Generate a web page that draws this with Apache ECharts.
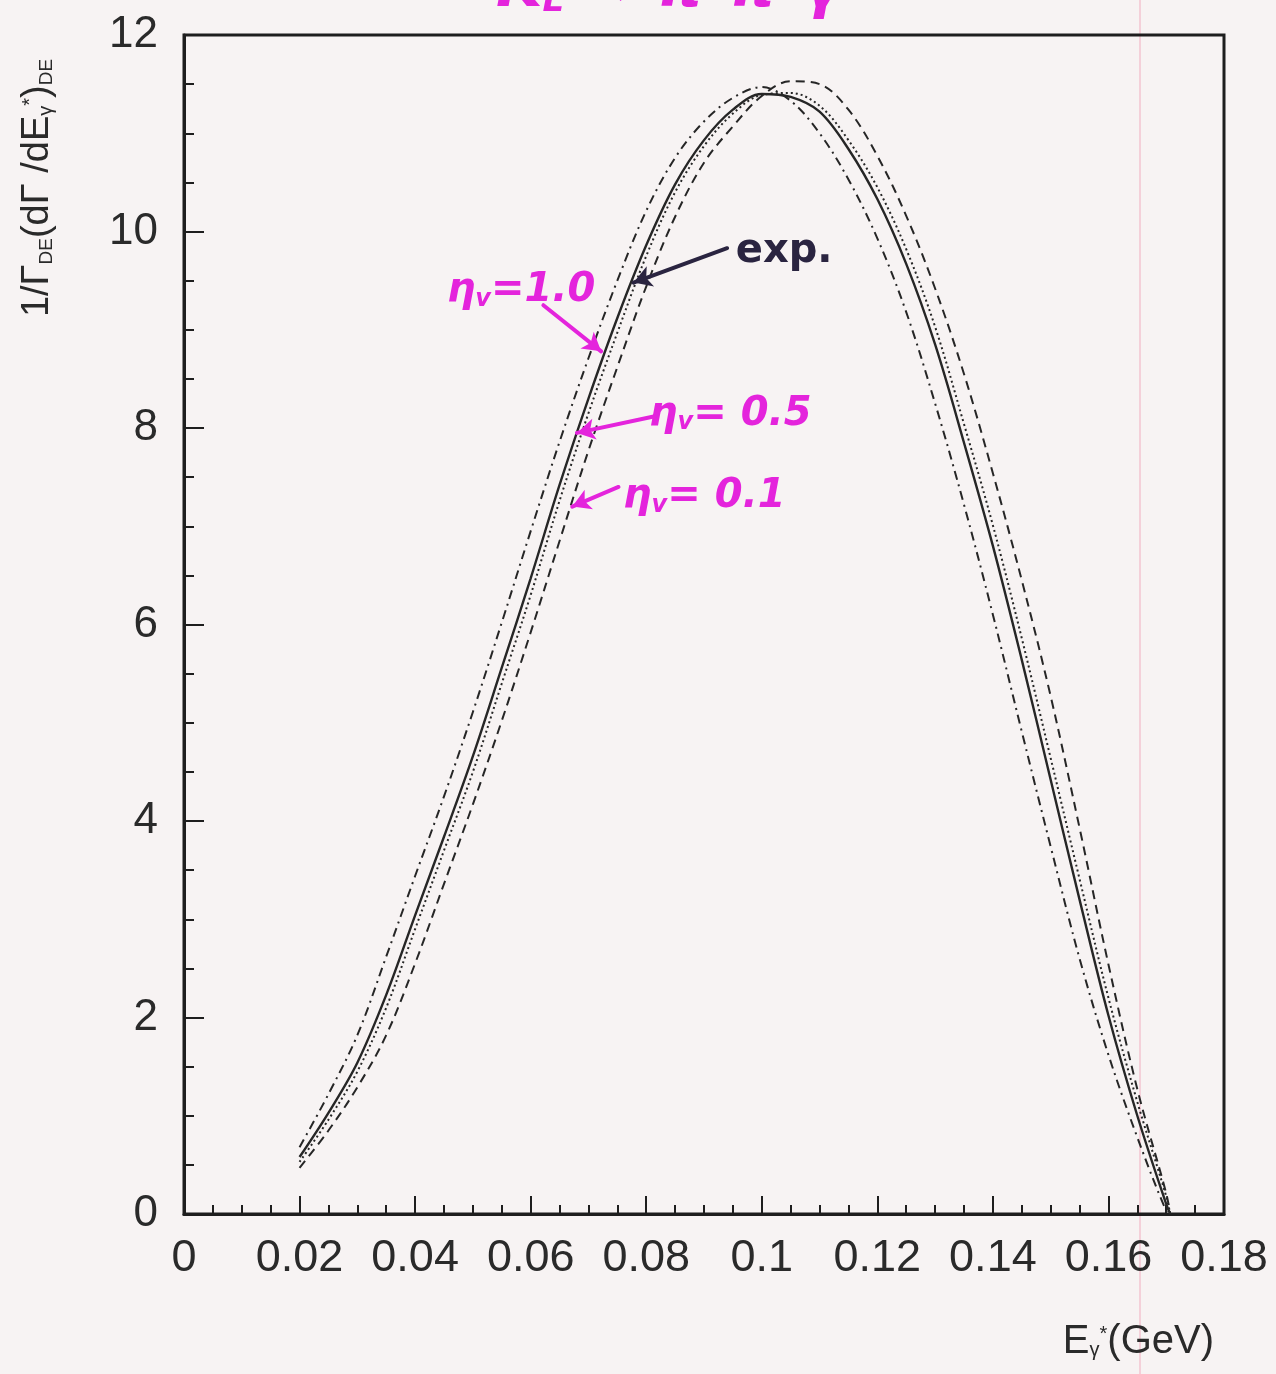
<!DOCTYPE html>
<html>
<head>
<meta charset="utf-8">
<title>DE photon spectrum</title>
<script src="https://cdn.jsdelivr.net/npm/echarts@6/dist/echarts.min.js"></script>
<style>
html, body { margin: 0; padding: 0; background: #f7f3f3; }
#charts { width: 1276px; height: 1374px; }
</style>
</head>
<body>
<div id="charts"></div>
<script>
// photon energy E*_gamma (GeV), shared by every curve
var energy = [0.020, 0.025, 0.030, 0.035, 0.040, 0.045, 0.050, 0.055, 0.060, 0.065,
    0.070, 0.075, 0.080, 0.085, 0.090, 0.095, 0.100, 0.105, 0.110, 0.115,
    0.120, 0.125, 0.130, 0.135, 0.140, 0.145, 0.150, 0.155, 0.160, 0.165,
    0.170, 0.1707];

// solid : exp.
var expCurve = [0.58, 1.03, 1.54, 2.23, 3.04, 3.84, 4.66, 5.56, 6.47, 7.42,
    8.30, 9.12, 9.86, 10.48, 10.93, 11.24, 11.40, 11.37, 11.22, 10.84,
    10.33, 9.67, 8.85, 7.85, 6.80, 5.64, 4.42, 3.20, 2.02, 1.00,
    0.10, 0];
// dash-dot : eta_v = 1.0
var eta10 = [0.68, 1.22, 1.82, 2.62, 3.44, 4.25, 5.11, 6.02, 6.95, 7.86,
    8.71, 9.50, 10.21, 10.75, 11.12, 11.36, 11.47, 11.33, 11.00, 10.53,
    9.93, 9.18, 8.25, 7.22, 6.10, 4.91, 3.74, 2.60, 1.62, 0.78,
    0.03, 0];
// dotted : eta_v = 0.5
var eta05 = [0.53, 0.96, 1.45, 2.10, 2.90, 3.70, 4.50, 5.40, 6.30, 7.26,
    8.15, 8.97, 9.75, 10.40, 10.87, 11.20, 11.39, 11.41, 11.28, 10.93,
    10.45, 9.82, 9.03, 8.04, 7.01, 5.86, 4.64, 3.41, 2.20, 1.14,
    0.18, 0];
// dashed : eta_v = 0.1
var eta01 = [0.47, 0.85, 1.29, 1.82, 2.55, 3.36, 4.17, 5.02, 5.92, 6.85,
    7.77, 8.62, 9.44, 10.15, 10.70, 11.07, 11.38, 11.53, 11.50, 11.24,
    10.77, 10.16, 9.42, 8.55, 7.54, 6.45, 5.27, 3.93, 2.54, 1.27,
    0.21, 0];

var xTickStep = 0.02;
var yTickStep = 2;

// handwritten notes: text anchor and arrow (from -> to) in data units
var notes = [
    { text: '{e|η}{s|v}{e|=1.0}', at: [0.0455, 9.40], from: [0.0622, 9.25], to: [0.0722, 8.78] },
    { text: '{e|η}{s|v}{e|= 0.5}', at: [0.0805, 8.14], from: [0.0815, 8.12], to: [0.0680, 7.95] },
    { text: '{e|η}{s|v}{e|= 0.1}', at: [0.0760, 7.30], from: [0.0752, 7.40], to: [0.0672, 7.20] }
];
var expNote = { text: 'exp.', at: [0.0955, 9.80], from: [0.0940, 9.83], to: [0.0778, 9.48] };

var INK = '#262626';
var PEN = '#e424dc';

function pairs(arr) {
    return energy.map(function (e, i) { return [e, arr[i]]; });
}

function curve(name, arr, type, width) {
    return {
        name: name,
        type: 'line',
        data: pairs(arr),
        showSymbol: false,
        smooth: 0.35,
        silent: true,
        lineStyle: { color: INK, width: width, type: type }
    };
}

function arrow(note, color) {
    return [{ coord: note.from }, { coord: note.to, lineStyle: { color: color } }];
}

var myChart = echarts.init(document.getElementById('charts'), null, { renderer: 'canvas' });

var option = {
    backgroundColor: '#f7f3f3',
    animation: false,
    grid: {
        left: 184, right: 52, top: 35, bottom: 160,
        show: true, borderColor: '#1e1e1e', borderWidth: 3, backgroundColor: 'transparent'
    },
    xAxis: {
        type: 'value',
        min: 0, max: 0.18, interval: xTickStep,
        axisLine: { show: true, onZero: false, lineStyle: { color: '#1e1e1e', width: 3 } },
        axisTick: { show: true, inside: true, length: 18, lineStyle: { color: '#1e1e1e', width: 2 } },
        minorTick: { show: true, splitNumber: 4, length: 9, lineStyle: { color: '#1e1e1e', width: 2 } },
        splitLine: { show: false },
        axisLabel: {
            margin: 22, color: '#2a2a2a', fontSize: 45, fontFamily: 'Liberation Sans',
            formatter: function (v) { return String(parseFloat(v.toFixed(2))); }
        }
    },
    yAxis: {
        type: 'value',
        min: 0, max: 12, interval: yTickStep,
        axisLine: { show: true, onZero: false, lineStyle: { color: '#1e1e1e', width: 3 } },
        axisTick: { show: true, inside: true, length: 20, lineStyle: { color: '#1e1e1e', width: 2 } },
        minorTick: { show: true, splitNumber: 4, length: 10, lineStyle: { color: '#1e1e1e', width: 2 } },
        splitLine: { show: false },
        axisLabel: { margin: 26, color: '#2a2a2a', fontSize: 44, fontFamily: 'Liberation Sans' }
    },
    series: [
        curve('exp.', expCurve, 'solid', 2.4),
        curve('eta=1.0', eta10, [9, 5, 2, 5], 2),
        curve('eta=0.5', eta05, [2, 3], 2),
        curve('eta=0.1', eta01, [9, 6], 2),
        {
            // arrows of the handwritten notes
            type: 'line', data: [], silent: true,
            markLine: {
                silent: true, symbol: ['none', 'arrow'], symbolSize: [16, 18],
                label: { show: false },
                lineStyle: { color: PEN, width: 4, type: 'solid', cap: 'round' },
                data: notes.map(function (n) { return arrow(n, PEN); })
                    .concat([arrow(expNote, '#2a2440')])
            }
        }
    ]
};

myChart.setOption(option);

// text overlays placed from data units
var penRich = {
    e: { fontSize: 40, fontWeight: 'bold', fontStyle: 'italic', fontFamily: 'DejaVu Sans', fill: PEN },
    s: { fontSize: 24, fontWeight: 'bold', fontStyle: 'italic', fontFamily: 'DejaVu Sans', fill: PEN, padding: [18, 0, 0, 0] }
};
var graphics = notes.map(function (n) {
    var p = myChart.convertToPixel({ gridIndex: 0 }, n.at);
    return {
        type: 'text', x: p[0], y: p[1], silent: true,
        style: { text: n.text, rich: penRich, verticalAlign: 'middle', align: 'left' }
    };
});
var pe = myChart.convertToPixel({ gridIndex: 0 }, expNote.at);
graphics.push({
    type: 'text', x: pe[0], y: pe[1], silent: true,
    style: { text: expNote.text, fill: '#2a2440', fontSize: 40, fontWeight: 'bold', fontFamily: 'DejaVu Sans', verticalAlign: 'middle' }
});

// top title, cut off by the scan edge
graphics.push({
    type: 'text', x: 496, y: 20, silent: true,
    style: {
        text: '{t|K}{l|L}{t| → π}{u|+}{t|π}{u|−}{t|γ}',
        verticalAlign: 'bottom', align: 'left',
        rich: {
            t: { fontSize: 60, fontStyle: 'italic', fontWeight: 'bold', fontFamily: 'DejaVu Sans', fill: PEN },
            l: { fontSize: 34, fontStyle: 'italic', fontWeight: 'bold', fontFamily: 'DejaVu Sans', fill: PEN, padding: [24, 0, 0, 0] },
            u: { fontSize: 30, fontStyle: 'italic', fontWeight: 'bold', fontFamily: 'DejaVu Sans', fill: PEN, padding: [0, 0, 30, 0] }
        }
    }
});

// y axis title
graphics.push({
    type: 'text', x: 38, y: 188, rotation: Math.PI / 2, silent: true,
    style: {
        text: '{a|1/Γ}{b|DE}{a|(dΓ /dE}{c|γ}{d|*}{a|)}{b|DE}',
        align: 'center', verticalAlign: 'middle',
        rich: {
            a: { fontSize: 38, fontFamily: 'Liberation Sans', fill: '#2a2a2a' },
            b: { fontSize: 19, fontFamily: 'Liberation Sans', fill: '#2a2a2a', padding: [18, 0, 0, 0] },
            c: { fontSize: 20, fontFamily: 'Liberation Sans', fill: '#2a2a2a', padding: [16, 0, 0, 0] },
            d: { fontSize: 20, fontFamily: 'Liberation Sans', fill: '#2a2a2a', padding: [0, 0, 16, 0] }
        }
    }
});

// x axis title
graphics.push({
    type: 'text', x: 1214, y: 1342, silent: true,
    style: {
        text: '{a|E}{c|γ}{d|*}{a|(GeV)}',
        align: 'right', verticalAlign: 'middle',
        rich: {
            a: { fontSize: 40, fontFamily: 'Liberation Sans', fill: '#2a2a2a' },
            c: { fontSize: 20, fontFamily: 'Liberation Sans', fill: '#2a2a2a', padding: [16, 0, 0, 0] },
            d: { fontSize: 20, fontFamily: 'Liberation Sans', fill: '#2a2a2a', padding: [0, 0, 16, 0] }
        }
    }
});

// faint pink margin rule of the scanned sheet
graphics.push({
    type: 'line', silent: true, z: -1,
    shape: { x1: 1140, y1: 0, x2: 1140, y2: 1374 },
    style: { stroke: '#f3c4d0', lineWidth: 1.5 }
});

myChart.setOption({ graphic: graphics });
</script>
</body>
</html>
